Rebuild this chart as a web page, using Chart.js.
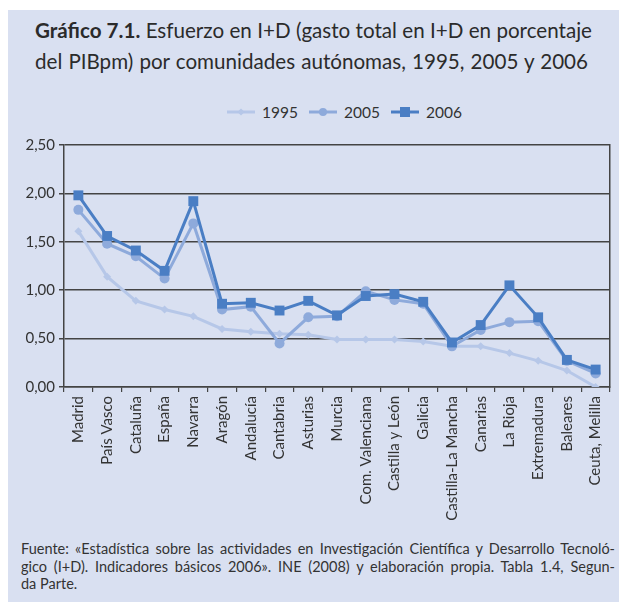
<!DOCTYPE html>
<html lang="es">
<head>
<meta charset="utf-8">
<script src="https://cdn.jsdelivr.net/npm/chart.js@4/dist/chart.umd.min.js"></script>
<style>
  html, body { margin: 0; padding: 0; background: #fff; }
  body { width: 619px; height: 602px; overflow: hidden; position: relative; font-family: Lato, 'Open Sans', sans-serif; color: #2b2b2b; }
  #panel { position: absolute; left: 8px; top: 10px; right: 0; bottom: 0; background: #d9e0f1; }
  .title { position: absolute; left: 35px; width: 557px; font-size: 20.6px; line-height: 31px; top: 15px; }
  .title div { text-align: justify; text-align-last: justify; white-space: nowrap; }
  .title div.l2 { width: 553px; }
  .legend { position: absolute; left: 227px; top: 102px; height: 20px; display: flex; align-items: center; font-size: 15.5px; color: #333; }
  .legend svg { margin-right: 7px; }
  .legend span { margin-right: 11px; }
  #wrap { position: absolute; left: 0; top: 130px; width: 619px; height: 410px; }
  .foot { position: absolute; left: 21px; width: 594px; top: 540px; font-size: 14.5px; line-height: 17.5px; color: #333; }
  .foot div.j { text-align: justify; text-align-last: justify; white-space: nowrap; }
</style>
</head>
<body>
<div id="panel"></div>
<div class="title">
  <div><b>Gráfico 7.1.</b> Esfuerzo en I+D (gasto total en I+D en porcentaje</div>
  <div class="l2">del PIBpm) por comunidades autónomas, 1995, 2005 y 2006</div>
</div>
<div class="legend" id="legend"></div>
<div id="wrap"><canvas id="chart"></canvas></div>
<div class="foot">
  <div class="j">Fuente: «Estadística sobre las actividades en Investigación Científica y Desarrollo Tecnoló-</div>
  <div class="j">gico (I+D). Indicadores básicos 2006». INE (2008) y elaboración propia. Tabla 1.4, Segun-</div>
  <div>da Parte.</div>
</div>
<script>
const regions = ['Madrid', 'País Vasco', 'Cataluña', 'España', 'Navarra', 'Aragón', 'Andalucía', 'Cantabria', 'Asturias', 'Murcia',
  'Com. Valenciana', 'Castilla y León', 'Galicia', 'Castilla-La Mancha', 'Canarias', 'La Rioja', 'Extremadura', 'Baleares', 'Ceuta, Melilla'];
const y1995 = [1.61, 1.14, 0.89, 0.80, 0.73, 0.60, 0.57, 0.55, 0.54, 0.49, 0.49, 0.49, 0.47, 0.42, 0.42, 0.35, 0.27, 0.17, 0.00];
const y2005 = [1.83, 1.48, 1.35, 1.12, 1.69, 0.80, 0.83, 0.45, 0.72, 0.73, 0.99, 0.90, 0.86, 0.42, 0.59, 0.67, 0.68, 0.27, 0.14];
const y2006 = [1.98, 1.56, 1.41, 1.20, 1.92, 0.86, 0.87, 0.79, 0.89, 0.74, 0.94, 0.96, 0.88, 0.46, 0.64, 1.05, 0.72, 0.28, 0.18];
const yTicks = [0, 0.5, 1, 1.5, 2, 2.5];

const C1995 = '#b6c7e8', C2005 = '#8eaadb', C2006 = '#4a7ec4';
const GRID = '#444';

const series = [
  { label: '1995', data: y1995, color: C1995, style: 'rectRot', r: 4, order: 3 },
  { label: '2005', data: y2005, color: C2005, style: 'circle', r: 5, order: 2 },
  { label: '2006', data: y2006, color: C2006, style: 'rect', r: 7, order: 1 },
];

// html legend: line with marker + text
const lg = document.getElementById('legend');
for (const s of series) {
  let mark = '';
  if (s.style === 'rectRot') mark = `<polygon points="14,3.5 17.5,7 14,10.5 10.5,7" fill="${s.color}"/>`;
  else if (s.style === 'circle') mark = `<circle cx="14" cy="7" r="4" fill="${s.color}"/>`;
  else mark = `<rect x="9" y="2" width="10" height="10" fill="${s.color}"/>`;
  lg.innerHTML += `<svg width="28" height="14"><line x1="0" y1="7" x2="28" y2="7" stroke="${s.color}" stroke-width="3"/>${mark}</svg><span>${s.label}</span>`;
}

Chart.defaults.font.family = 'Lato, "Open Sans", sans-serif';
Chart.defaults.font.size = 15;
Chart.defaults.color = '#333';

new Chart(document.getElementById('chart'), {
  type: 'line',
  data: {
    labels: regions,
    datasets: series.map(s => ({
      label: s.label, data: s.data, order: s.order,
      borderColor: s.color, backgroundColor: s.color, borderWidth: 3,
      pointStyle: s.style, pointRadius: s.r, pointHoverRadius: s.r,
      pointBackgroundColor: s.color, pointBorderColor: s.color, pointBorderWidth: 0,
      tension: 0,
    })),
  },
  options: {
    responsive: true, maintainAspectRatio: false, animation: false,
    layout: { padding: { top: 15, right: 9, left: 0, bottom: 0 } },
    plugins: { legend: { display: false }, tooltip: { enabled: false } },
    scales: {
      x: {
        offset: true,
        grid: { offset: true, drawOnChartArea: false, tickLength: 5, color: GRID, lineWidth: 1.2 },
        border: { display: true, color: GRID, width: 1.5 },
        ticks: { minRotation: 90, maxRotation: 90, autoSkip: false, padding: 4, font: { size: 15 } },
        afterFit: sc => { sc.height = 153; },
      },
      y: {
        min: 0, max: 2.5,
        afterBuildTicks: sc => { sc.ticks = yTicks.map(v => ({ value: v })); },
        grid: { color: GRID, lineWidth: 1.5, tickLength: 5 },
        border: { display: true, color: GRID, width: 1.5 },
        ticks: { padding: 4, callback: v => v.toFixed(2).replace('.', ','), font: { size: 15 } },
        afterFit: sc => { sc.width = 64; },
      },
      yR: {
        position: 'right', min: 0, max: 2.5,
        grid: { drawOnChartArea: false, drawTicks: false },
        border: { display: true, color: GRID, width: 1.5 },
        ticks: { display: false },
        afterFit: sc => { sc.width = 0; },
      },
    },
  },
});
</script>
</body>
</html>
